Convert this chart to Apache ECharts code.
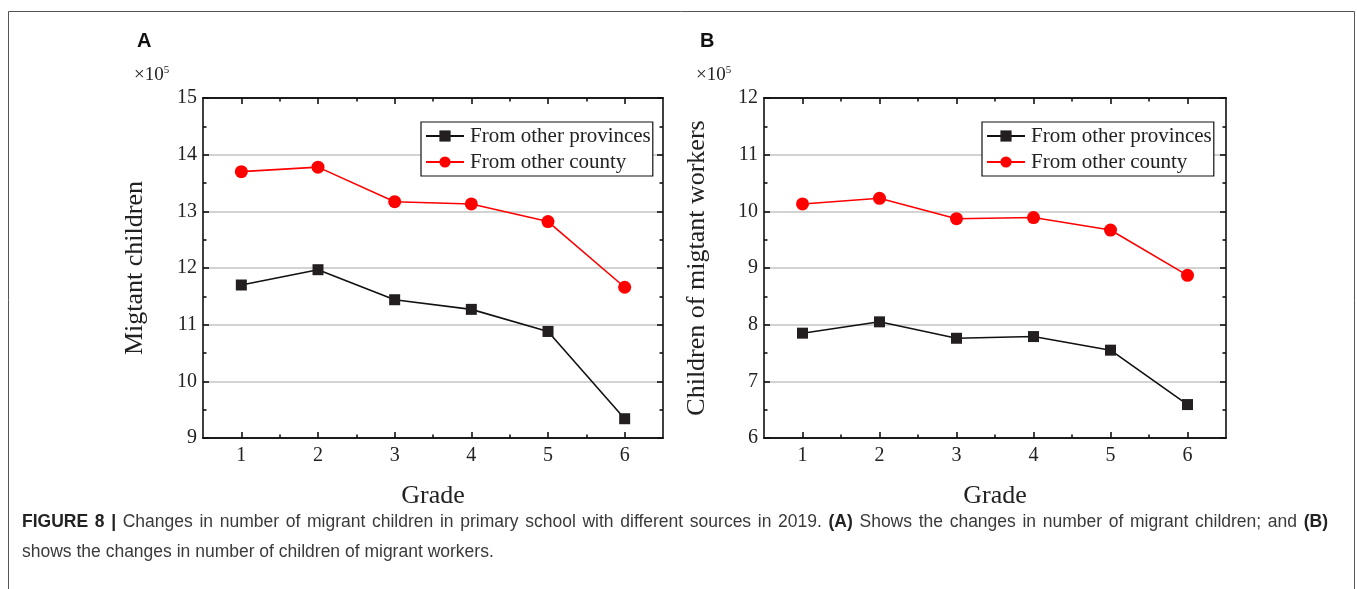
<!DOCTYPE html>
<html>
<head>
<meta charset="utf-8">
<script src="https://cdn.jsdelivr.net/npm/echarts@6/dist/echarts.min.js"></script>
<style>
html,body{margin:0;padding:0;background:#fff;}
#chart{width:1357px;height:589px;}
</style>
</head>
<body>
<div id="chart"></div>
<script>
// ---- data ----
const grades = [1, 2, 3, 4, 5, 6];
const minorGrades = [1.5, 2.5, 3.5, 4.5, 5.5];
const seriesNames = ['From other provinces', 'From other county'];
const aProvinces = [11.70, 11.97, 11.44, 11.27, 10.88, 9.34];
const aCounty    = [13.70, 13.78, 13.17, 13.13, 12.82, 11.66];
const bProvinces = [7.85, 8.05, 7.76, 7.79, 7.55, 6.59];
const bCounty    = [10.13, 10.23, 9.87, 9.89, 9.67, 8.87];
const panelLetters = ['A', 'B'];
const yTitles = ['Migtant children', 'Children of migtant workers'];
const xTitle = 'Grade';
const yRanges = [[9, 15], [6, 12]];
// caption line 1 as [text, bold] pieces; line 2 plain
const captionLine1 = [
  ['FIGURE 8 |', true],
  ['Changes in number of migrant children in primary school with different sources in 2019.', false],
  ['(A)', true],
  ['Shows the changes in number of migrant children; and', false],
  ['(B)', true]
];
const captionLine2 = 'shows the changes in number of children of migrant workers.';

const SERIF = 'Liberation Serif';
const CAP_SIZE = 17.5;
const grids = [
  {left: 203, top: 98, width: 460, height: 340},
  {left: 764, top: 98, width: 462, height: 340}
];

const xAxes = [], yAxes = [], series = [], legends = [], graphics = [];

function xAx(gi, pos, ticks, len, labels, name) {
  return {
    type: 'value', gridIndex: gi, position: pos, min: 0.5, max: 6.5,
    axisLine: {show: true, onZero: false, lineStyle: {color: '#111', width: 1.6}},
    axisTick: {show: true, inside: true, length: len, customValues: ticks, lineStyle: {color: '#111', width: 1.6}},
    axisLabel: labels ? {show: true, customValues: grades, margin: 8, fontFamily: SERIF, fontSize: 20, color: '#222'} : {show: false},
    splitLine: {show: false},
    name: name || '', nameLocation: 'middle', nameGap: 45,
    nameTextStyle: {fontFamily: SERIF, fontSize: 26, color: '#222'}
  };
}
function yAx(gi, pos, range, main, name) {
  return {
    type: 'value', gridIndex: gi, position: pos, min: range[0], max: range[1], interval: 1,
    axisLine: {show: true, onZero: false, lineStyle: {color: '#111', width: 1.6}},
    axisTick: {show: true, inside: true, length: 6, lineStyle: {color: '#111', width: 1.6}},
    minorTick: {show: true, splitNumber: 2, length: 3.5, lineStyle: {color: '#111', width: 1.6}},
    axisLabel: main ? {show: true, margin: 6, fontFamily: SERIF, fontSize: 20, color: '#222'} : {show: false},
    splitLine: main ? {show: true, lineStyle: {color: '#c4c4c4', width: 1.6}} : {show: false},
    name: name || '', nameLocation: 'middle', nameGap: 40, nameRotate: 90,
    nameTextStyle: {fontFamily: SERIF, fontSize: 26, color: '#222'}
  };
}

const panelData = [[aProvinces, aCounty], [bProvinces, bCounty]];
const legendLeft = [421, 982];
const yNameGap = [55, 54];

for (let g = 0; g < 2; g++) {
  const xBase = xAxes.length;
  xAxes.push(xAx(g, 'bottom', grades, 6, true, xTitle));
  xAxes.push(xAx(g, 'bottom', minorGrades, 3.5, false));
  xAxes.push(xAx(g, 'top', grades, 6, false));
  xAxes.push(xAx(g, 'top', minorGrades, 3.5, false));
  const yBase = yAxes.length;
  const ym = yAx(g, 'left', yRanges[g], true, yTitles[g]);
  ym.nameGap = yNameGap[g];
  yAxes.push(ym);
  yAxes.push(yAx(g, 'right', yRanges[g], false));

  const [prov, county] = panelData[g];
  series.push({
    name: seriesNames[0], type: 'line', xAxisIndex: xBase, yAxisIndex: yBase,
    data: grades.map((x, i) => [x, prov[i]]),
    symbol: 'rect', symbolSize: 11,
    itemStyle: {color: '#231f20'}, lineStyle: {color: '#111', width: 1.6},
    animation: false, z: 3
  });
  series.push({
    name: seriesNames[1], type: 'line', xAxisIndex: xBase, yAxisIndex: yBase,
    data: grades.map((x, i) => [x, county[i]]),
    symbol: 'circle', symbolSize: 13,
    itemStyle: {color: '#ff0000'}, lineStyle: {color: '#ff0000', width: 1.6},
    animation: false, z: 4
  });

  legends.push({
    orient: 'vertical', left: legendLeft[g], top: 122,
    data: seriesNames,
    itemWidth: 38, itemHeight: 14, itemGap: 2,
    padding: [2, 2, 2, 4],
    borderColor: '#111', borderWidth: 1.2,
    backgroundColor: '#fff',
    selectedMode: false,
    textStyle: {fontFamily: SERIF, fontSize: 21, color: '#222', lineHeight: 24, padding: [0, 0, 0, 1]}
  });

  graphics.push({
    type: 'text', left: [137, 700][g], top: 31,
    style: {text: panelLetters[g], font: 'bold 20px "Liberation Sans"', fill: '#111'}
  });
  graphics.push({
    type: 'text', left: [134, 696][g], top: 65,
    style: {
      text: '×10{s|5}', fontFamily: SERIF, fontSize: 19, fill: '#222',
      rich: {s: {fontFamily: SERIF, fontSize: 11, fill: '#222', verticalAlign: 'top', padding: [0, 0, 9, 0]}}
    }
  });
}

// figure frame
graphics.push({
  type: 'rect', shape: {x: 8.5, y: 11.5, width: 1346, height: 620},
  style: {fill: 'none', stroke: '#555', lineWidth: 1}, silent: true
});

// caption line 1, justified to the frame's text width
const capLeft = 22, capRight = 1328;
const mctx = document.createElement('canvas').getContext('2d');
const regFont = CAP_SIZE + 'px "Liberation Sans"';
const boldFont = 'bold ' + CAP_SIZE + 'px "Liberation Sans"';
const words = [];
captionLine1.forEach(([t, b]) => t.split(' ').forEach(w => words.push([w, b])));
let wordsWidth = 0;
words.forEach(([w, b]) => { mctx.font = b ? boldFont : regFont; wordsWidth += mctx.measureText(w).width; });
const spW = (capRight - capLeft - wordsWidth) / (words.length - 1);
let richText = '';
words.forEach(([w, b], i) => {
  if (i > 0) richText += '{sp| }';
  richText += '{' + (b ? 'b' : 'n') + '|' + w + '}';
});
graphics.push({
  type: 'text', left: capLeft, top: 513,
  style: {
    text: richText,
    rich: {
      b: {font: boldFont, fill: '#222'},
      n: {font: regFont, fill: '#3a3a3a'},
      sp: {font: regFont, width: spW}
    }
  }
});
graphics.push({
  type: 'text', left: capLeft, top: 543,
  style: {text: captionLine2, font: regFont, fill: '#3a3a3a'}
});

const chart = echarts.init(document.getElementById('chart'), null, {renderer: 'canvas'});
chart.setOption({
  animation: false,
  backgroundColor: '#fff',
  grid: grids,
  xAxis: xAxes,
  yAxis: yAxes,
  legend: legends,
  series: series,
  graphic: graphics
});
</script>
</body>
</html>
